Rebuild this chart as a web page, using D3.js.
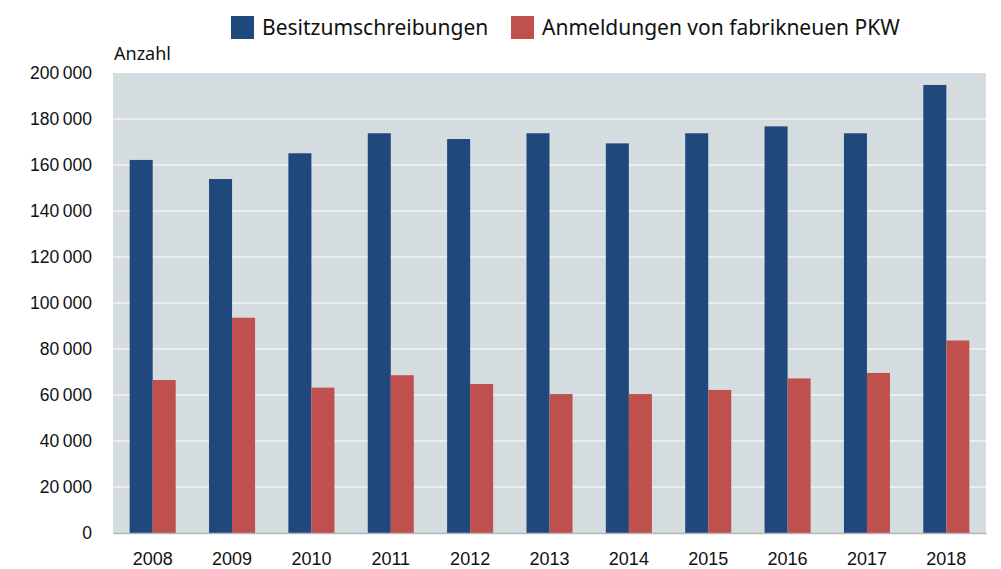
<!DOCTYPE html>
<html>
<head>
<meta charset="utf-8">
<script src="https://cdn.jsdelivr.net/npm/d3@7"></script>
<style>
  html, body { margin: 0; padding: 0; background: #fff; }
  svg { display: block; font-family: "Source Sans Pro", "Noto Sans", "Open Sans", sans-serif; }
</style>
</head>
<body>
<svg id="chart" width="1001" height="569"></svg>
<script>
// Jahre und Werte (Anzahl)
const years = ["2008", "2009", "2010", "2011", "2012", "2013", "2014", "2015", "2016", "2017", "2018"];
const besitzumschreibungen = [162200, 153900, 165100, 173800, 171300, 173800, 169400, 173800, 176800, 173800, 194800];
const neuanmeldungen = [66500, 93600, 63200, 68600, 64800, 60400, 60400, 62200, 67200, 69600, 83700];
const seriesNames = ["Besitzumschreibungen", "Anmeldungen von fabrikneuen PKW"];
const seriesColors = ["#1f487c", "#c0504d"];
const yTicks = [0, 20000, 40000, 60000, 80000, 100000, 120000, 140000, 160000, 180000, 200000];

const W = 1001, H = 569;
const margin = { top: 73, right: 15, bottom: 36, left: 113 };
const iw = W - margin.left - margin.right;
const ih = H - margin.top - margin.bottom;

const svg = d3.select("#chart");
const g = svg.append("g").attr("transform", `translate(${margin.left},${margin.top})`);

const x = d3.scaleBand().domain(years).range([0, iw]).paddingInner(0.42).paddingOuter(0.21);
const xs = d3.scaleBand().domain([0, 1]).range([0, x.bandwidth()]);
const y = d3.scaleLinear().domain([0, 200000]).range([ih, 0]);

const fmt = v => d3.format(",")(v).replace(/,/g, "\u202F");

// Hintergrund der Zeichenfläche
g.append("rect").attr("width", iw).attr("height", ih).attr("fill", "#d4dcdf");

// Gitterlinien
g.append("g").selectAll("line").data(yTicks.filter(t => t > 0 && t < 200000)).join("line")
  .attr("x1", 0).attr("x2", iw)
  .attr("y1", d => y(d)).attr("y2", d => y(d))
  .attr("stroke", "#f2f5f6").attr("stroke-width", 1.5);

// Balken
const groups = g.append("g").selectAll("g").data(years).join("g")
  .attr("transform", d => `translate(${x(d)},0)`);
groups.each(function (yr, i) {
  const vals = [besitzumschreibungen[i], neuanmeldungen[i]];
  d3.select(this).selectAll("rect").data(vals).join("rect")
    .attr("x", (d, j) => xs(j))
    .attr("width", xs.bandwidth())
    .attr("y", d => y(d))
    .attr("height", d => ih - y(d))
    .attr("fill", (d, j) => seriesColors[j]);
});

// x-Achse
const xAxis = g.append("g").attr("transform", `translate(0,${ih})`)
  .call(d3.axisBottom(x).tickSize(0).tickPadding(19));
xAxis.select(".domain").attr("stroke", "#b4b8ba").attr("stroke-width", 1.5);
xAxis.selectAll("text").attr("font-size", 18).attr("fill", "#111").style("font-family", "inherit");

// y-Achse
const yAxis = g.append("g")
  .call(d3.axisLeft(y).tickValues(yTicks).tickFormat(fmt).tickSize(0).tickPadding(21));
yAxis.select(".domain").remove();
yAxis.selectAll("text").attr("font-size", 17.5).attr("fill", "#111").style("font-family", "inherit");

// Achsentitel
svg.append("text").attr("x", 114).attr("y", 60).attr("font-size", 18).attr("fill", "#111").text("Anzahl");

// Legende
const legendX = [231, 511];
seriesNames.forEach((name, i) => {
  svg.append("rect").attr("x", legendX[i]).attr("y", 16).attr("width", 23).attr("height", 23).attr("fill", seriesColors[i]);
  svg.append("text").attr("x", legendX[i] + 31).attr("y", 35).attr("font-size", 21).attr("fill", "#111").text(name);
});
</script>
</body>
</html>
